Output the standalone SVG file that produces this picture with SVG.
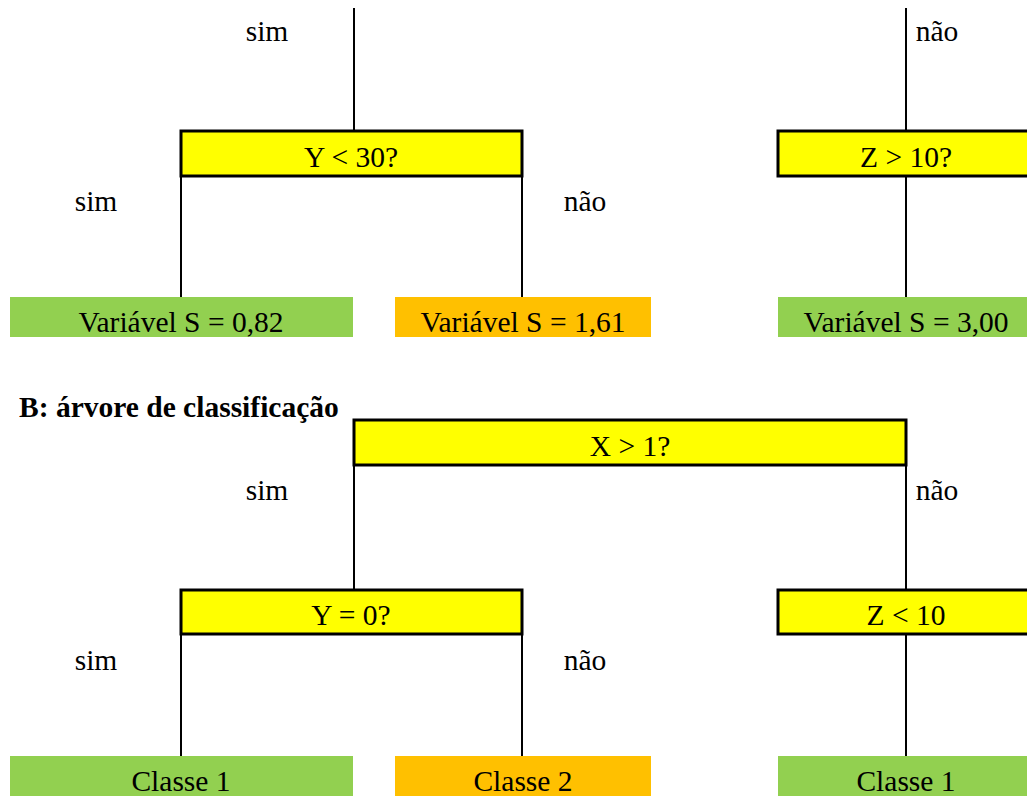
<svg xmlns="http://www.w3.org/2000/svg" width="1027" height="796" viewBox="0 0 1027 796">
<style>
text{font-family:"Liberation Serif","Times New Roman",serif;font-size:29.5px;fill:#000}
.c{text-anchor:middle}
.t{font-weight:bold}
.q{fill:#FFFF00;stroke:#000;stroke-width:3}
.g{fill:#92D050}
.o{fill:#FFC000}
.ln{stroke:#000;stroke-width:2;fill:none}
</style>
<rect width="1027" height="796" fill="#fff"/>
<g id="connectors">
<line class="ln" x1="354" y1="8" x2="354" y2="132"/>
<line class="ln" x1="906" y1="8" x2="906" y2="132"/>
<line class="ln" x1="181" y1="176" x2="181" y2="297"/>
<line class="ln" x1="522" y1="176" x2="522" y2="297"/>
<line class="ln" x1="906" y1="176" x2="906" y2="297"/>
<line class="ln" x1="354" y1="465" x2="354" y2="590"/>
<line class="ln" x1="906" y1="465" x2="906" y2="590"/>
<line class="ln" x1="181" y1="634" x2="181" y2="756"/>
<line class="ln" x1="522" y1="634" x2="522" y2="756"/>
<line class="ln" x1="906" y1="634" x2="906" y2="756"/>
<text x="267" y="41" class="c">sim</text>
<text x="937" y="41" class="c">não</text>
<text x="96" y="211" class="c">sim</text>
<text x="585" y="211" class="c">não</text>
<text x="267" y="500" class="c">sim</text>
<text x="937" y="500" class="c">não</text>
<text x="96" y="670" class="c">sim</text>
<text x="585" y="670" class="c">não</text>
</g>
<g id="nY30"><rect class="q" x="181" y="131" width="341" height="45"/><text x="351" y="167" class="c">Y &lt; 30?</text></g>
<g id="nZ10a"><rect class="q" x="778" y="131" width="260" height="45"/><text x="906" y="167" class="c">Z &gt; 10?</text></g>
<g id="leafA1"><rect class="g" x="10" y="297" width="343" height="40"/><text x="181" y="332" class="c">Variável S = 0,82</text></g>
<g id="leafA2"><rect class="o" x="395" y="297" width="256" height="40"/><text x="523" y="332" class="c">Variável S = 1,61</text></g>
<g id="leafA3"><rect class="g" x="778" y="297" width="249" height="40"/><text x="906" y="332" class="c">Variável S = 3,00</text></g>
<g id="title"><text x="19" y="417" class="t">B: árvore de classificação</text></g>
<g id="nX1"><rect class="q" x="354" y="420" width="552" height="45"/><text x="630" y="456" class="c">X &gt; 1?</text></g>
<g id="nY0"><rect class="q" x="181" y="590" width="341" height="44"/><text x="351" y="625" class="c">Y = 0?</text></g>
<g id="nZ10b"><rect class="q" x="778" y="590" width="260" height="44"/><text x="906" y="625" class="c">Z &lt; 10</text></g>
<g id="leafB1"><rect class="g" x="10" y="756" width="343" height="40"/><text x="181" y="791" class="c">Classe 1</text></g>
<g id="leafB2"><rect class="o" x="395" y="756" width="256" height="40"/><text x="523" y="791" class="c">Classe 2</text></g>
<g id="leafB3"><rect class="g" x="778" y="756" width="249" height="40"/><text x="906" y="791" class="c">Classe 1</text></g>
</svg>
